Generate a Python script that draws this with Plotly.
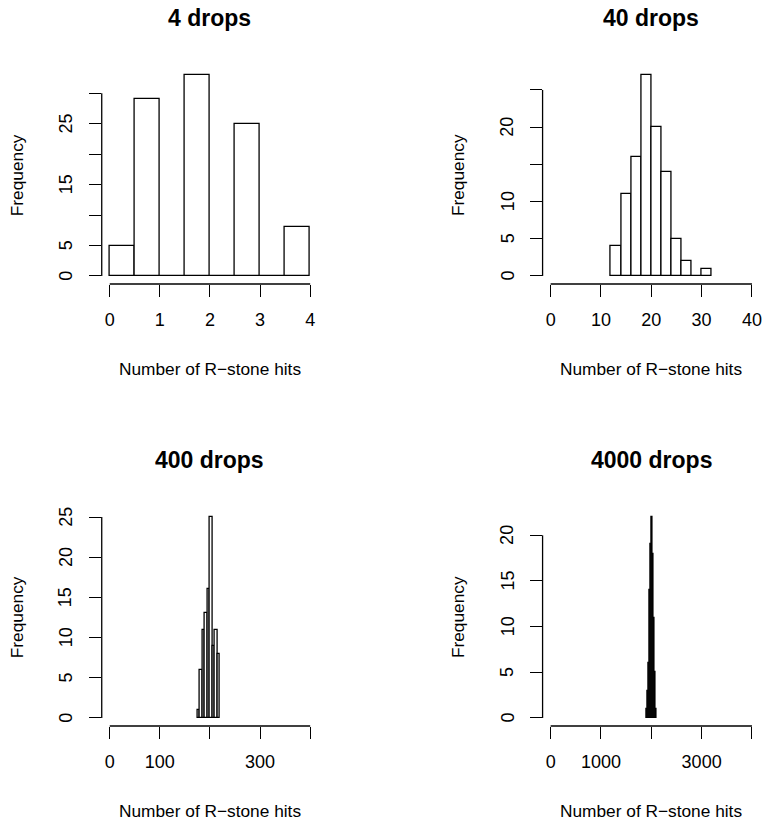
import plotly.graph_objects as go

# ---------------- data ----------------
titles = ["4 drops", "40 drops", "400 drops", "4000 drops"]
n_drops = [4, 40, 400, 4000]

bin_width = [0.5, 2, 5, 20]

drops4_bin_left = [0, 0.5, 1, 1.5, 2, 2.5, 3, 3.5]
drops4_counts = [5, 29, 0, 33, 0, 25, 0, 8]

drops40_bin_left = [12, 14, 16, 18, 20, 22, 24, 26, 28, 30]
drops40_counts = [4, 11, 16, 27, 20, 14, 5, 2, 0, 1]

drops400_bin_left = [175, 180, 185, 190, 195, 200, 205, 210, 215]
drops400_counts = [1, 6, 11, 13, 16, 25, 9, 11, 8]

drops4000_bin_left = [1900, 1920, 1940, 1960, 1980, 2000, 2020, 2040, 2060, 2080]
drops4000_counts = [1, 3, 6, 14, 19, 22, 18, 11, 5, 1]

x_tickvals = [[0, 1, 2, 3, 4], [0, 10, 20, 30, 40],
              [0, 100, 200, 300, 400], [0, 1000, 2000, 3000, 4000]]
x_ticktext = [["0", "1", "2", "3", "4"], ["0", "10", "20", "30", "40"],
              ["0", "100", "", "300", ""], ["0", "1000", "", "3000", ""]]
y_tickvals = [[0, 5, 10, 15, 20, 25, 30], [0, 5, 10, 15, 20, 25],
              [0, 5, 10, 15, 20, 25], [0, 5, 10, 15, 20]]
y_ticktext = [["0", "5", "", "15", "", "25", ""], ["0", "5", "10", "", "20", ""],
              ["0", "5", "10", "15", "20", "25"], ["0", "5", "10", "15", "20"]]

x_label = "Number of R\u2212stone hits"
y_label = "Frequency"

bins = [drops4_bin_left, drops40_bin_left, drops400_bin_left, drops4000_bin_left]
counts = [drops4_counts, drops40_counts, drops400_counts, drops4000_counts]

# ---------------- layout ----------------
W, H = 766, 824
col_px = [(102, 319), (544, 762)]
row_px = [(67, 284), (509, 726)]
FONT = "Liberation Sans, Arial, Helvetica, sans-serif"
LW = 1.3

fig = go.Figure()
layout = dict(width=W, height=H, margin=dict(l=0, r=0, t=0, b=0),
              paper_bgcolor="white", plot_bgcolor="white", showlegend=False,
              font=dict(family=FONT, color="black", size=18))
shapes, annotations = [], []

for i in range(4):
    r, c = divmod(i, 2)
    sfx = "" if i == 0 else str(i + 1)
    xa, ya = "x" + sfx, "y" + sfx
    w = bin_width[i]
    centers = [b + w / 2 for b in bins[i]]
    fig.add_trace(go.Bar(x=centers, y=counts[i], width=w, xaxis=xa, yaxis=ya,
                         marker=dict(color="white", line=dict(color="black", width=LW)),
                         hoverinfo="skip"))
    x0p, x1p = col_px[c]
    y0p, y1p = row_px[r]
    xmin, xmax = 0, n_drops[i]
    ymax = max(counts[i])
    xpad = 0.04 * (xmax - xmin)
    ypad = 0.04 * ymax
    layout["xaxis" + sfx] = dict(
        domain=[x0p / W, x1p / W], anchor=ya, range=[xmin - xpad, xmax + xpad],
        tickvals=x_tickvals[i], ticktext=x_ticktext[i], ticks="outside",
        ticklen=12, tickwidth=LW, tickcolor="black", showgrid=False,
        zeroline=False, showline=False, ticklabelstandoff=7,
        tickfont=dict(size=18, family=FONT, color="black"), fixedrange=True)
    layout["yaxis" + sfx] = dict(
        domain=[1 - y1p / H, 1 - y0p / H], anchor=xa, range=[-ypad, ymax + ypad],
        tickvals=y_tickvals[i], ticks="outside", showticklabels=False,
        ticklen=12, tickwidth=LW, tickcolor="black", showgrid=False,
        zeroline=False, showline=False, fixedrange=True)
    # rotated y tick labels (R style, parallel to axis)
    for v, t in zip(y_tickvals[i], y_ticktext[i]):
        if t:
            annotations.append(dict(text=t, xref=xa + " domain", yref=ya, x=0, y=v,
                                    xanchor="center", yanchor="middle",
                                    xshift=-36 if c == 0 else -35, textangle=-90,
                                    showarrow=False,
                                    font=dict(size=18, family=FONT, color="black")))
    # axis lines spanning first to last tick (R style)
    shapes.append(dict(type="line", xref=xa, yref=ya + " domain",
                       x0=x_tickvals[i][0], x1=x_tickvals[i][-1], y0=0, y1=0,
                       line=dict(color="black", width=LW)))
    shapes.append(dict(type="line", xref=xa + " domain", yref=ya,
                       x0=0, x1=0, y0=y_tickvals[i][0], y1=y_tickvals[i][-1],
                       line=dict(color="black", width=LW)))
    annotations.append(dict(text="<b>" + titles[i] + "</b>", xref=xa + " domain",
                            yref=ya + " domain", x=0.5, y=1, xanchor="center",
                            yanchor="middle", yshift=49, showarrow=False,
                            font=dict(size=23, family=FONT, color="black")))
    annotations.append(dict(text=x_label, xref=xa + " domain", yref=ya + " domain",
                            x=0.5, y=0, xanchor="center", yanchor="middle",
                            yshift=-85, showarrow=False,
                            font=dict(size=17.3, family=FONT, color="black")))
    annotations.append(dict(text=y_label, xref=xa + " domain", yref=ya + " domain",
                            x=0, y=0.5, xanchor="center", yanchor="middle",
                            xshift=-85, textangle=-90, showarrow=False,
                            font=dict(size=17.3, family=FONT, color="black")))

layout["shapes"] = shapes
layout["annotations"] = annotations
layout["bargap"] = 0
fig.update_layout(**layout)
fig.write_html("out.html")
